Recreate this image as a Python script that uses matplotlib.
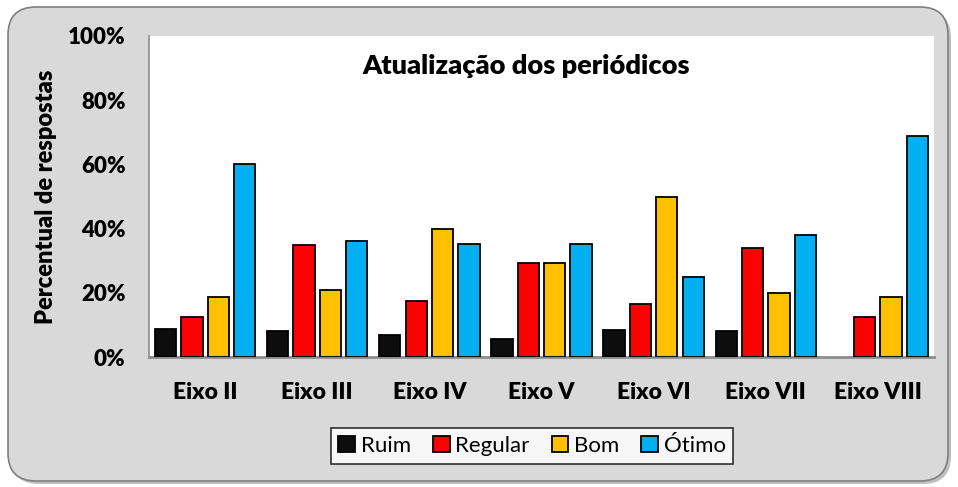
import numpy as np
import matplotlib
matplotlib.use("Agg")
import matplotlib.pyplot as plt
from matplotlib.patches import FancyBboxPatch
from matplotlib.transforms import IdentityTransform

plt.rcParams['font.family'] = ['Lato', 'DejaVu Sans']

categorias = ["Eixo II", "Eixo III", "Eixo IV", "Eixo V", "Eixo VI", "Eixo VII", "Eixo VIII"]
ruim = [8.6, 8.0, 6.9, 5.7, 8.3, 8.0, 0.0]
regular = [12.5, 35.0, 17.5, 29.4, 16.6, 34.0, 12.5]
bom = [18.6, 21.0, 40.0, 29.4, 50.0, 19.9, 18.6]
otimo = [60.1, 36.0, 35.2, 35.2, 24.9, 38.0, 68.8]
series = ["Ruim", "Regular", "Bom", "Ótimo"]
cores = ["#0d0d0d", "#ff0000", "#ffc000", "#00b0f0"]
yticks = [0, 20, 40, 60, 80, 100]

fig = plt.figure(figsize=(9.58, 4.87), dpi=100, facecolor="white")

# fundo arredondado do gráfico (coordenadas em pixels)
sombra = FancyBboxPatch((11, 3), 940, 474, boxstyle="round,pad=0,rounding_size=28",
                        transform=IdentityTransform(), facecolor="#bfbfbf", edgecolor="none", zorder=0)
fundo = FancyBboxPatch((8, 6), 940, 474, boxstyle="round,pad=0,rounding_size=28",
                       transform=IdentityTransform(), facecolor="#d9d9d9", edgecolor="#808080",
                       linewidth=1.2, zorder=1)
fig.patches.append(sombra)
fig.patches.append(fundo)

ax = fig.add_axes([149 / 958, 1 - 357 / 487, (934 - 149) / 958, (357 - 36) / 487])
ax.set_facecolor("white")
ax.set_zorder(2)

x = np.arange(len(categorias))
passo = 0.235
largura = 0.19
dados = [ruim, regular, bom, otimo]
for i, (nome, vals, cor) in enumerate(zip(series, dados, cores)):
    lw = [1.3 if v > 0 else 0 for v in vals]
    ax.bar(x + (i - 1.5) * passo, vals, width=largura, color=cor, edgecolor="black",
           linewidth=lw, label=nome, zorder=3)

ax.set_xlim(-0.5, len(categorias) - 0.5)
ax.set_ylim(0, 100)
ax.set_yticks(yticks)
ax.set_yticklabels([f"{v}%" for v in yticks], fontsize=16, fontweight="heavy")
ax.set_xticks(x)
ax.set_xticklabels(categorias, fontsize=16.5, fontweight="heavy")
ax.tick_params(axis="both", length=0)
ax.tick_params(axis="y", pad=17)
ax.tick_params(axis="x", pad=18)

for s in ["top", "right"]:
    ax.spines[s].set_visible(False)
ax.spines["left"].set_color("#8c8c8c")
ax.spines["left"].set_linewidth(1.2)
ax.spines["bottom"].set_color("#8c8c8c")
ax.spines["bottom"].set_linewidth(2)

ax.set_ylabel("Percentual de respostas", fontsize=17, fontweight="heavy")
ax.yaxis.set_label_coords(-92 / 785, 0.5)

ax.text(0.48, 0.905, "Atualização dos periódicos", transform=ax.transAxes,
        ha="center", va="center", fontsize=19.5, fontweight="heavy")

leg = fig.legend(loc="center", bbox_to_anchor=(532 / 958, 1 - 446 / 487), ncol=4,
                 frameon=True, fancybox=False, fontsize=16, handlelength=0.75, handleheight=0.75,
                 handletextpad=0.25, columnspacing=1.0, borderpad=0.35)
leg.get_frame().set_edgecolor("black")
leg.get_frame().set_linewidth(1.2)
leg.get_frame().set_facecolor("white")
leg.set_zorder(3)

fig.savefig("out.png", dpi=100)
